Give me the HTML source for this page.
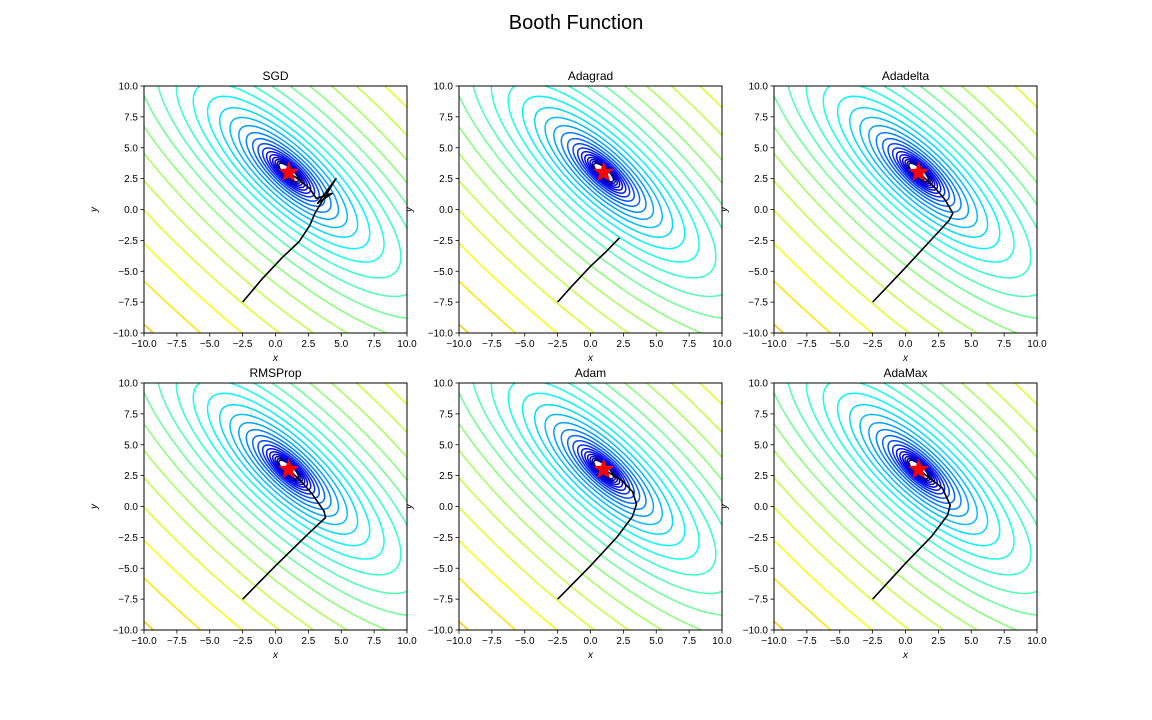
<!DOCTYPE html>
<html><head><meta charset="utf-8"><style>
html,body{margin:0;padding:0;background:#fff;overflow:hidden;width:1152px;height:720px;}
svg{display:block;}
svg text{font-family:"Liberation Sans",sans-serif;}
</style></head><body>
<svg id="fig" width="1152" height="720" viewBox="0 0 1152 720" xmlns="http://www.w3.org/2000/svg">
<rect width="1152" height="720" fill="#fff"/>
<text x="576" y="29" font-size="20" text-anchor="middle">Booth Function</text>
</svg>
<script>
const titles = ["SGD","Adagrad","Adadelta","RMSProp","Adam","AdaMax"];
const tickValues = [-10,-7.5,-5,-2.5,0,2.5,5,7.5,10];
const tickLabels = ["−10.0","−7.5","−5.0","−2.5","0.0","2.5","5.0","7.5","10.0"];
const minimumPoint = [1,3];
const levelExpMin = 0, levelExpMax = 4.8, levelCount = 35;
const pathSGD = [[-2.5,-7.5],[-1,-5.6],[0.5,-3.9],[1.8,-2.6],[2.6,-1.3],[3.0,-0.3],[4.6,2.5],[3.2,0.5],[4.3,1.3],[3.1,0.9],[2.6,1.7],[1.8,2.4],[1,3]];
const pathAdagrad = [[-2.5,-7.5],[-1.5,-6.3],[0,-4.6],[1.2,-3.4],[2.2,-2.3]];
const pathAdadelta = [[-2.5,-7.5],[0,-4.7],[2,-2.4],[3.3,-0.9],[3.6,-0.3],[3.0,0.8],[2.2,1.8],[1,3]];
const pathRMSProp = [[-2.5,-7.5],[0,-4.8],[2.5,-2.2],[3.8,-0.9],[3.7,-0.4],[2.8,1.0],[1.9,2.1],[1,3]];
const pathAdam = [[-2.5,-7.5],[0,-4.8],[2,-2.5],[3.2,-0.8],[3.5,0.2],[3.2,1.2],[2.4,2.1],[1,3]];
const pathAdaMax = [[-2.5,-7.5],[0,-4.6],[2,-2.4],[3.2,-0.7],[3.4,0.1],[2.8,1.5],[1,3]];
const paths = [pathSGD,pathAdagrad,pathAdadelta,pathRMSProp,pathAdam,pathAdaMax];

const NS="http://www.w3.org/2000/svg";
const fig=document.getElementById('fig');
function mk(t,a,p){const e=document.createElementNS(NS,t);for(const k in a)e.setAttribute(k,a[k]);(p||fig).appendChild(e);return e;}
function jet(t){const c=v=>Math.round(255*Math.max(0,Math.min(1,v)));return `rgb(${c(1.5-Math.abs(4*t-3))},${c(1.5-Math.abs(4*t-2))},${c(1.5-Math.abs(4*t-1))})`;}
const lefts=[144,459,774], tops=[86,383], W=263, H=247;
for(let i=0;i<6;i++){
  const L=lefts[i%3], T=tops[Math.floor(i/3)];
  const sx=x=>L+(x+10)/20*W, sy=y=>T+(10-y)/20*H;
  const g=mk('g',{});
  
  
  const cp=mk('clipPath',{id:'cp'+i},g); mk('rect',{x:L,y:T,width:W,height:H},cp);
  const cg=mk('g',{'clip-path':'url(#cp'+i+')'},g);
  for(let k=0;k<levelCount;k++){
    const e=levelExpMin+(levelExpMax-levelExpMin)*k/(levelCount-1);
    const lev=Math.pow(10,e);
    const b=Math.sqrt(lev), a=Math.sqrt(lev)/3;
    let pts=[];
    for(let s=0;s<=160;s++){const t=s/160*2*Math.PI;
      const x=minimumPoint[0]+(b*Math.cos(t)+a*Math.sin(t))/Math.SQRT2;
      const y=minimumPoint[1]+(-b*Math.cos(t)+a*Math.sin(t))/Math.SQRT2;
      pts.push(sx(x).toFixed(2)+','+sy(y).toFixed(2));}
    const c=mk('polyline',{points:pts.join(' '),fill:'none',stroke:jet((e-levelExpMin)/5),'stroke-width':1.5},cg);
    
    
  }
  const p=mk('polyline',{points:paths[i].map(q=>sx(q[0]).toFixed(2)+','+sy(q[1]).toFixed(2)).join(' '),fill:'none',stroke:'#000','stroke-width':1.6,'stroke-linejoin':'round'},cg);
  
  
  const mx=sx(minimumPoint[0]), my=sy(minimumPoint[1]);
  const wm=mk('ellipse',{cx:mx-5,cy:my-5,rx:3.5,ry:2,fill:'#fff',transform:`rotate(30 ${mx-5} ${my-5})`},cg);
  
  
  let sp=[];for(let s=0;s<10;s++){const r=s%2?4.5:11,an=-Math.PI/2+s*Math.PI/5;sp.push((mx+r*Math.cos(an)).toFixed(2)+','+(my+r*Math.sin(an)).toFixed(2));}
  const st=mk('polygon',{points:sp.join(' '),fill:'#f00'},cg);
  
  
  const fr=mk('rect',{x:L,y:T,width:W,height:H,fill:'none',stroke:'#000','stroke-width':1},g);
  
  
  tickValues.forEach((v,j)=>{
    const X=sx(v), Y=sy(v);
    mk('line',{x1:X,x2:X,y1:T+H,y2:T+H+3.5,stroke:'#000','stroke-width':0.8},g);
    const tx=mk('text',{x:X,y:T+H+14,'font-size':10,'text-anchor':'middle'},g);tx.textContent=tickLabels[j];
    
    
    mk('line',{x1:L-3.5,x2:L,y1:Y,y2:Y,stroke:'#000','stroke-width':0.8},g);
    const ty=mk('text',{x:L-6,y:Y+3.5,'font-size':10,'text-anchor':'end'},g);ty.textContent=tickLabels[j];
    
    
  });
  const xl=mk('text',{x:L+W/2,y:T+H+28,'font-size':10,'font-style':'italic','text-anchor':'middle'},g);xl.textContent='x';
  
  
  const yx=L-47, yy=T+H/2;
  const yl=mk('text',{x:yx,y:yy,'font-size':10,'font-style':'italic','text-anchor':'middle',transform:`rotate(-90 ${yx} ${yy})`},g);yl.textContent='y';
  
  
  const tt=mk('text',{x:L+W/2,y:T-6,'font-size':12,'text-anchor':'middle'},g);tt.textContent=titles[i];
  
  
}
</script>
</body></html>
